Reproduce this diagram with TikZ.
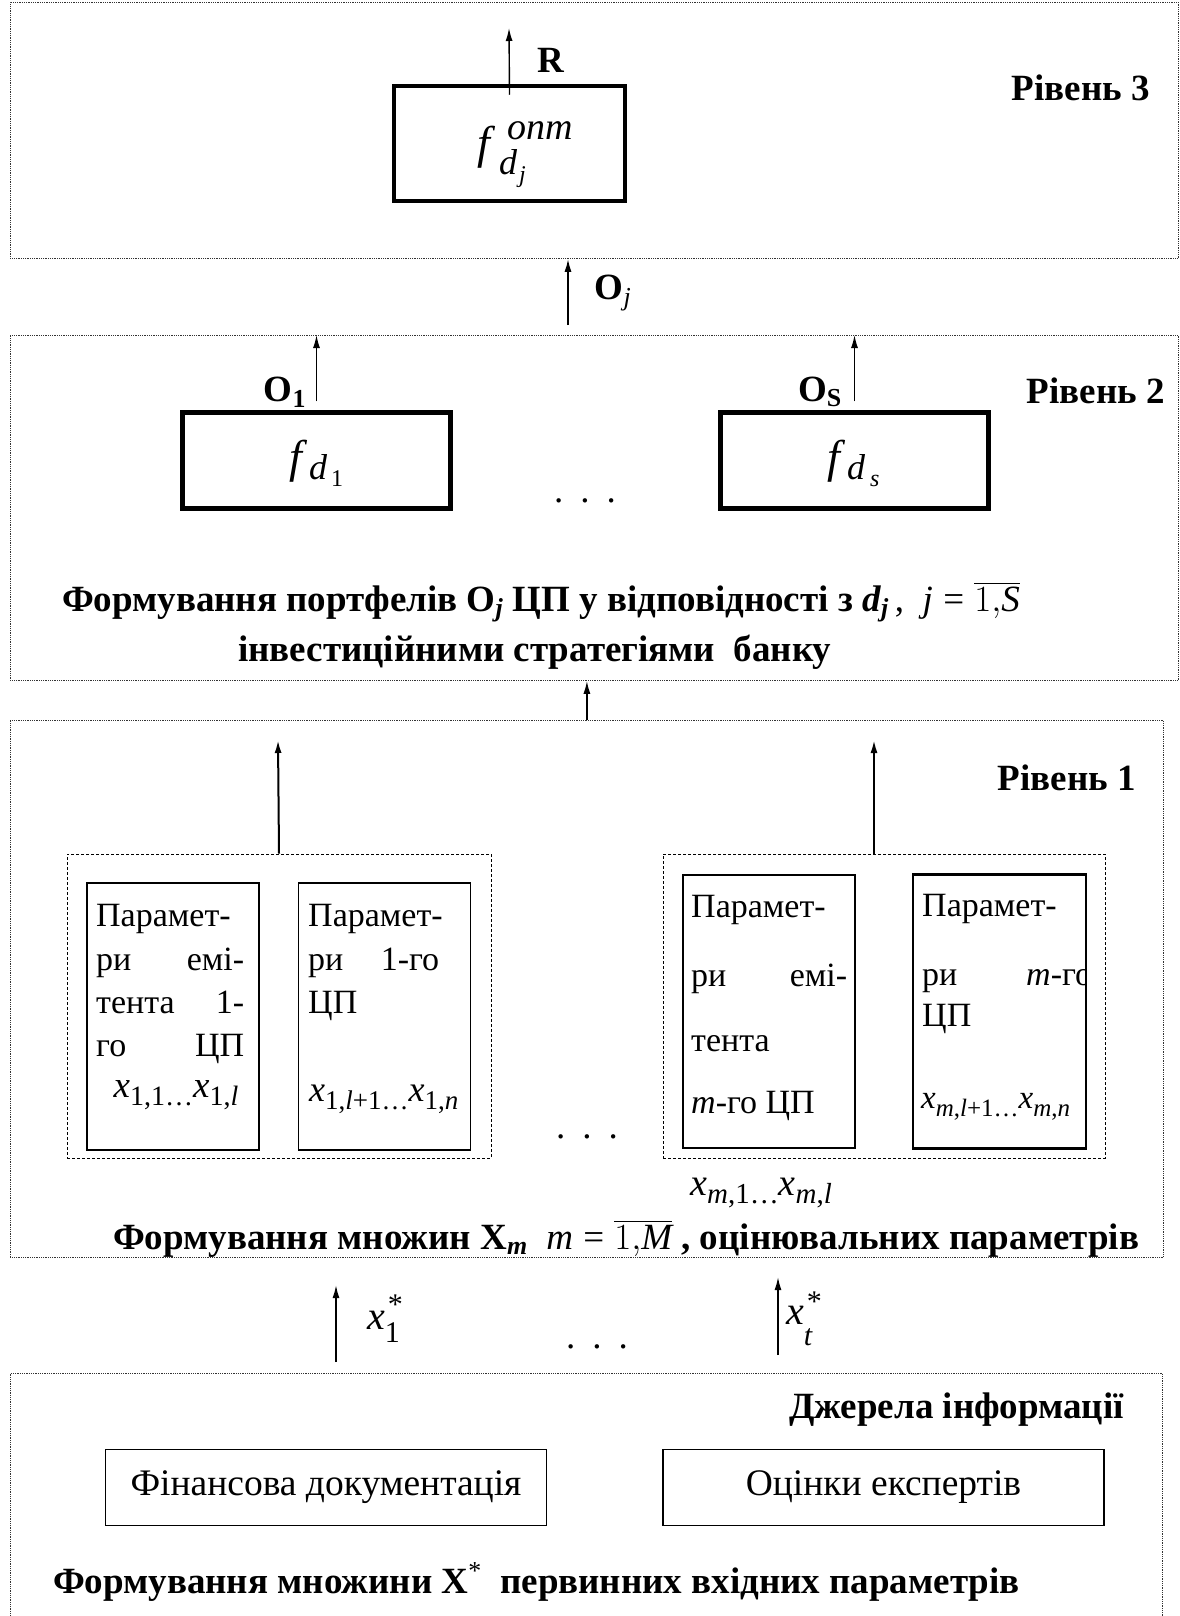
\RequirePackage{fix-cm}
\documentclass[tikz,border=0pt]{standalone}
\usepackage{amsmath}
\usepackage{fontspec}
\setmainfont{Liberation Serif}
\usetikzlibrary{arrows.meta,calc}

% italic / bold text pieces inside formulas
\newcommand{\ti}[1]{\text{\mdseries\itshape #1}}
\newcommand{\tb}[1]{\text{\bfseries #1}}
\newcommand{\tbi}[1]{\text{\bfseries\itshape #1}}
\newcommand{\teq}{\mathrel{\text{\mdseries =}}}
\newcommand{\fs}[1]{\fontsize{#1}{#1}\selectfont}
\newcommand{\reg}{\fontsize{34}{43}\selectfont}
\newcommand{\bld}{\fontsize{37}{45}\selectfont\bfseries}
\newcommand{\spread}{.\hspace{17pt}.\hspace{17pt}.}
% italic x with a lowered index: size, index size, drop, index
\newcommand{\xs}[4]{{\fs{#1}\itshape x}\raisebox{-#3}{\fs{#2}#4}}
% italic x with a lowered index and a raised star: index drop, star rise, index
\newcommand{\xstar}[3]{{\fs{40}\itshape x}\rlap{\raisebox{-#1}{\fs{30}#3}}\kern3pt\raisebox{#2}{\fs{30}*}}

\begin{document}
\begin{tikzpicture}[x=1pt,y=-1pt,
  level/.style={draw, densely dotted, line width=0.8pt, black!80, inner sep=0pt, anchor=north west},
  heavy/.style={draw, line width=4.5pt, inner sep=0pt},
  group/.style={draw, dashed, dash pattern=on 3pt off 2pt, line width=0.9pt, inner sep=0pt},
  param/.style={draw, line width=1.8pt, inner sep=0pt, minimum width=172pt},
  source/.style={draw, line width=1.3pt, inner sep=0pt, minimum width=441pt, minimum height=76pt, font=\fontsize{37.5}{40}\selectfont},
  ln/.style={anchor=base west, inner sep=0pt, font=\reg},
  it/.style={anchor=base west, inner sep=0pt, font=\fs{#1}\itshape},
  up/.style={anchor=base west, inner sep=0pt, font=\fs{#1}},
  title/.style={anchor=base west, inner sep=0pt, font=\bld},
  lab/.style={inner sep=0pt, font=\bld},
  arr/.style={-{Latex[length=13pt,width=7pt]}, line width=1.6pt},
  dots/.style={anchor=base, inner sep=0pt, font=\fs{37}},
]
\useasboundingbox (0,0) rectangle (1179,1616);

% ---------- level boxes ----------
\node[level, minimum width=1168pt, minimum height=256pt] (lvl3) at (10,2) {};
\node[level, minimum width=1168pt, minimum height=345pt] (lvl2) at (10,335) {};
\node[level, minimum width=1153pt, minimum height=537pt] (lvl1) at (10,720) {};
\node[level, minimum width=1152pt, minimum height=250pt] (lvl0) at (10,1373) {};

% ---------- level 3 ----------
\node[heavy, minimum width=231pt, minimum height=115pt] (opt) at (509.5,143.5) {};
\node[it=46] (optf) at (477,159) {f};
\node[it=38] (optsup) at (507,140) {опт};
\node[it=36] (optd) at (499,175) {d};
\node[it=24] (optj) at (519,183) {j};
\coordinate (rtip) at (509,28);
\draw[arr, line width=1.4pt] ([yshift=-11pt]opt.north) -- (rtip);
\node[lab] (rlab) at (551,60) {R};
\node[lab, anchor=base east] (lev3) at (1150,101) {Рівень 3};

% ---------- between levels 2 and 3 ----------
\coordinate (ojs) at (568,325);
\draw[arr, line width=1.8pt] (ojs) -- (ojs |- lvl3.south);
\node[lab] (ojlab) at (613,293) {O$_{\ti{j}}$};

% ---------- level 2 ----------
\node[heavy, minimum width=268pt, minimum height=96pt] (fd1) at (316.5,460.5) {};
\node[heavy, minimum width=268pt, minimum height=96pt] (fds) at (854.5,460.5) {};
\node[it=46] (fd1f) at (289,472) {f};
\node[it=36] (fd1d) at (309,479) {d};
\node[up=24] (fd1i) at (331,486) {1};
\node[it=46] (fdsf) at (827,472) {f};
\node[it=36] (fdsd) at (847,479) {d};
\node[it=24] (fdsi) at (870,486) {s};
\draw[arr, line width=1.4pt] ([yshift=9pt]fd1.north) -- (fd1.north |- lvl2.north);
\draw[arr, line width=1.4pt] ([yshift=9pt]fds.north) -- (fds.north |- lvl2.north);
\node[lab] (o1lab) at (285,392) {O$_{\tb{1}}$};
\node[lab] (oslab) at (820,392) {O$_{\tb{S}}$};
\node[lab, anchor=base east] (lev2) at (1165,403) {Рівень 2};
\node[dots] (dots2) at (585,502) {\spread};
\node[title] (port1) at (62,611)
  {Формування портфелів O$_{\tbi{j}}$ ЦП у відповідності з \textit{d}$_{\tbi{j}}$\mdseries\,,\enspace $\ti{j}\teq\overline{1{,}\ti{S}}$};
\node[title] (port2) at (238,661) {інвестиційними стратегіями\ \ банку};

% ---------- level 2 <- level 1 ----------
\draw[arr, line width=1.6pt] (lvl1.north) -- (lvl1.north |- lvl2.south);

% ---------- level 1 ----------
\node[group, minimum width=424pt, minimum height=304pt] (g1) at (279,1006) {};
\node[group, minimum width=442pt, minimum height=304pt] (g2) at (884,1006) {};
\node[param, minimum height=267pt] (pa) at (173,1016.5) {};
\node[param, minimum height=267pt] (pb) at (384.5,1016.5) {};
\node[param, minimum height=273pt] (pc) at (769,1011.5) {};
\node[param, minimum height=273pt] (pd) at (999.5,1011.5) {};

\coordinate (t1) at (278,740);
\coordinate (t2) at (874,740);
\draw[arr, line width=2pt] (g1.north) -- (t1);
\draw[arr, line width=2pt] (t2 |- g2.north) -- (t2);
\node[lab, anchor=base east] (lev1) at (1136,790) {Рівень 1};

% issuer parameters of the 1st security
\node[ln] (pa1) at (96,926) {Парамет-};
\node[ln] (pa2) at (96,970) {\makebox[148pt][l]{ри\hfill емі-}};
\node[ln] (pa3) at (96,1013) {\makebox[148pt][l]{тента\hfill 1-}};
\node[ln] (pa4) at (96,1056) {\makebox[148pt][l]{го\hfill ЦП}};
\node[inner sep=0pt, anchor=base] (pa5) at (176,1097)
  {\xs{37}{28}{8pt}{1,1\dots}\xs{37}{28}{8pt}{1,\textit{l}}};

% parameters of the 1st security
\node[ln] (pb1) at (308,926) {Парамет-};
\node[ln] (pb2) at (308,970) {\makebox[131pt][l]{ри\hfill 1-го}};
\node[ln] (pb3) at (308,1013) {ЦП};
\node[inner sep=0pt, anchor=base west] (pb5) at (309,1101)
  {\xs{36}{27}{8pt}{1,\textit{l}+1\dots}\xs{36}{27}{8pt}{1,\textit{n}}};

% issuer parameters of the m-th security
\node[ln] (pc1) at (691,917) {Парамет-};
\node[ln] (pc2) at (691,986) {\makebox[156pt][l]{ри\hfill емі-}};
\node[ln] (pc3) at (691,1051) {тента};
\node[ln] (pc4) at (691,1113) {\textit{m}-го ЦП};

% parameters of the m-th security
\begin{scope}
  \clip (pd.south west) rectangle (pd.north east);
  \node[ln] (pd1) at (922,916) {Парамет-};
  \node[ln] (pd2) at (922,985) {\makebox[170pt][l]{ри\hfill \textit{m}-го}};
  \node[ln] (pd3) at (922,1026) {ЦП};
\end{scope}
\node[inner sep=0pt, anchor=base west] (pd5) at (921,1108)
  {\xs{33}{25}{8pt}{\textit{m},\textit{l}+1\dots}\xs{33}{25}{8pt}{\textit{m},\textit{n}}};
\draw[param] (pd.south west) rectangle (pd.north east);

\node[inner sep=0pt, anchor=base west] (xm) at (690,1195)
  {\xs{38}{29}{8pt}{\textit{m},1\dots}\xs{38}{29}{8pt}{\textit{m},\textit{l}}};

\node[dots] (dots1) at (587,1138) {\spread};

\node[title] (setx) at (113,1249)
  {Формування множин X$_{\tbi{m}}$\ \ \mdseries$\ti{m}\teq\overline{1{,}\ti{M}}$\bfseries\ , оцінювальних параметрів};

% ---------- inputs ----------
\coordinate (a1s) at (336,1362);
\coordinate (a1t) at (336,1285);
\coordinate (a2s) at (778,1355);
\coordinate (a2t) at (778,1277);
\draw[arr, line width=1.6pt] (a1s) -- (a1t);
\draw[arr, line width=1.6pt] (a2s) -- (a2t);
\node[anchor=base west, inner sep=0pt] (x1lab) at (367,1329) {\xstar{13pt}{15pt}{1}};
\node[anchor=base west, inner sep=0pt] (xtlab) at (786,1324) {\xstar{21pt}{13pt}{\itshape t}};
\node[dots] (dots0) at (597,1348) {\spread};

% ---------- sources ----------
\node[lab, anchor=base east] (src) at (1124,1418) {Джерела інформації};
\node[source] (fin) at (326,1487.5) {Фінансова документація};
\node[source] (exp) at (883.5,1487.5) {Оцінки експертів};
\node[title] (setx0) at (53,1593)
  {Формування множини X$^{\text{\mdseries *}}$\ \ первинних вхідних параметрів};
\end{tikzpicture}
\end{document}
